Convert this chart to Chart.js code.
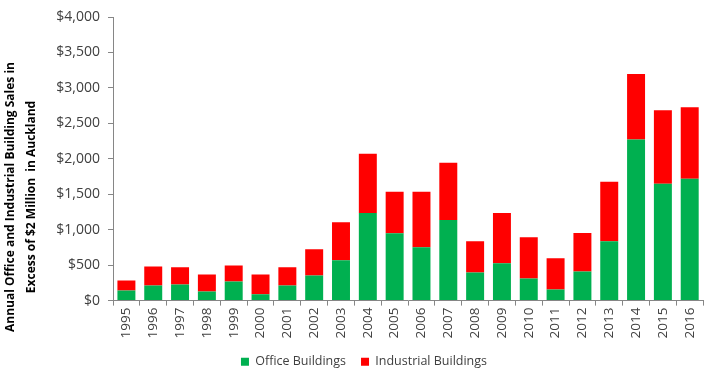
<!DOCTYPE html>
<html>
<head>
<meta charset="utf-8">
<script src="https://cdn.jsdelivr.net/npm/chart.js@4"></script>
<style>
	html, body { margin: 0; padding: 0; background: #fff; }
	#wrap { width: 708px; height: 378px; }
</style>
</head>
<body>
<div id="wrap"><canvas id="salesChart"></canvas></div>
<script>
const YEARS = ['1995', '1996', '1997', '1998', '1999', '2000', '2001', '2002', '2003', '2004', '2005',
	'2006', '2007', '2008', '2009', '2010', '2011', '2012', '2013', '2014', '2015', '2016'];
const OFFICE = [142, 213, 227, 128, 270, 90, 213, 355, 568, 1235, 951,
	753, 1136, 398, 526, 312, 156, 412, 838, 2272, 1647, 1718];
const INDUSTRIAL = [142, 270, 242, 241, 227, 279, 256, 369, 539, 838, 583,
	781, 810, 440, 710, 583, 441, 540, 838, 923, 1037, 1008];
const Y_TITLE = ['Annual Office and Industrial Building Sales in', 'Excess of $2 Million  in Auckland'];

const FONT = "'Open Sans', 'Liberation Sans', sans-serif";
const AXIS_COLOR = '#868686';

// the Excel title sits lower than the plot centre, so draw it by hand
const yTitlePlugin = {
	id: 'yTitle',
	afterDraw(chart) {
		const c = chart.ctx;
		c.save();
		c.font = 'bold 12px ' + FONT;
		c.fillStyle = '#000';
		c.textAlign = 'center';
		c.textBaseline = 'middle';
		c.translate(0, 197);
		c.rotate(-Math.PI / 2);
		c.fillText(Y_TITLE[0], 0, 11);
		c.fillText(Y_TITLE[1], 0, 32);
		c.restore();
	},
};

const ctx = document.querySelector('#salesChart').getContext('2d');
const chart = new Chart(ctx, {
	type: 'bar',
	data: {
		labels: YEARS,
		datasets: [
			{
				label: 'Office Buildings',
				data: OFFICE,
				backgroundColor: '#00B050',
				categoryPercentage: 0.67,
				barPercentage: 1,
			},
			{
				label: 'Industrial Buildings',
				data: INDUSTRIAL,
				backgroundColor: '#FF0000',
				categoryPercentage: 0.67,
				barPercentage: 1,
			},
		],
	},
	options: {
		responsive: true,
		maintainAspectRatio: false,
		animation: false,
		layout: {
			padding: { left: 24, right: 4, top: 17, bottom: 0 },
		},
		scales: {
			x: {
				stacked: true,
				offset: true,
				grid: {
					offset: true,
					drawOnChartArea: false,
					drawTicks: true,
					tickLength: 5,
					color: AXIS_COLOR,
				},
				border: { display: true, color: AXIS_COLOR },
				ticks: {
					minRotation: 90,
					maxRotation: 90,
					autoSkip: false,
					color: '#404040',
					font: { family: FONT, size: 13.5 },
					padding: 2,
				},
			},
			y: {
				stacked: true,
				min: 0,
				max: 4000,
				afterFit(scale) {
					scale.width = 89;
				},
				ticks: {
					stepSize: 500,
					color: '#404040',
					font: { family: FONT, size: 14 },
					padding: 8,
					callback: v => '$' + v.toLocaleString('en-US'),
				},
				grid: {
					drawOnChartArea: false,
					drawTicks: true,
					tickLength: 5,
					color: AXIS_COLOR,
				},
				border: { display: true, color: AXIS_COLOR },
			},
		},
		plugins: {
			legend: {
				position: 'bottom',
				labels: {
					boxWidth: 8,
					boxHeight: 8,
					padding: 15,
					color: '#404040',
					font: { family: FONT, size: 12.5 },
				},
			},
			tooltip: { enabled: false },
		},
	},
	plugins: [yTitlePlugin],
});
</script>
</body>
</html>
